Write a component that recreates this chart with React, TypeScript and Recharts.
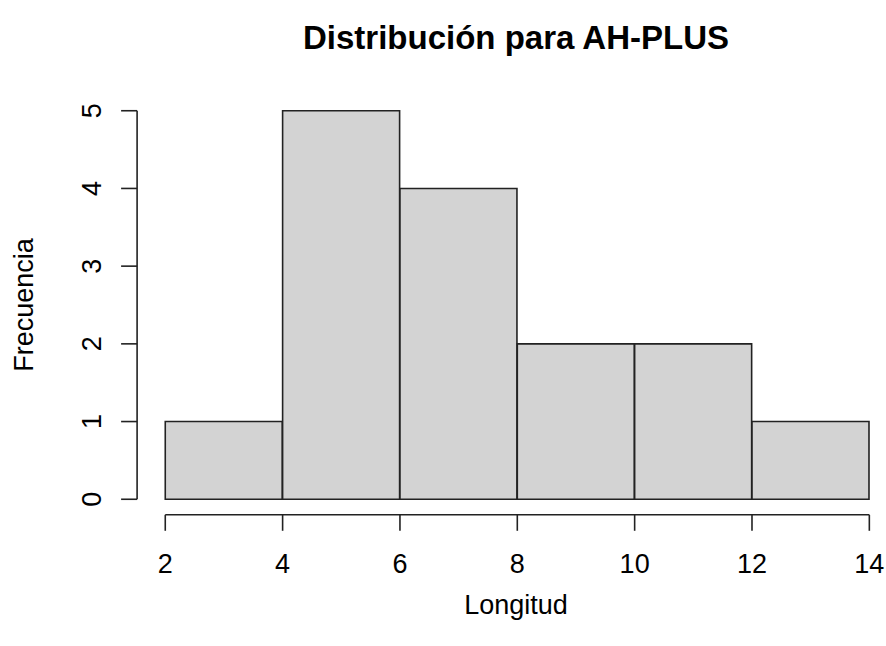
import React from 'react';
import { ComposedChart, Bar, XAxis, YAxis, ReferenceLine } from 'recharts';

// histogram bins (Longitud) and their counts
const binStarts = [2, 4, 6, 8, 10, 12];
const binEnds = [4, 6, 8, 10, 12, 14];
const counts = [1, 5, 4, 2, 2, 1];
const xTicks = [2, 4, 6, 8, 10, 12, 14];
const yTicks = [0, 1, 2, 3, 4, 5];

const title = 'Distribución para AH-PLUS';
const xLabel = 'Longitud';
const yLabel = 'Frecuencia';

const data = binStarts.map((s, i) => ({
  mid: (s + binEnds[i]) / 2,
  count: counts[i],
}));

// R style: axis range extended by 4% on each side
const ext = (lo: number, hi: number): [number, number] => {
  const pad = (hi - lo) * 0.04;
  return [lo - pad, hi + pad];
};
const xDomain = ext(xTicks[0], xTicks[xTicks.length - 1]);
const yDomain = ext(yTicks[0], yTicks[yTicks.length - 1]);

const FONT = '"Liberation Sans", Arial, sans-serif';
const INK = '#222';

const XTick = (props: any) => {
  const { x, y, payload } = props;
  return (
    <text x={x} y={y} dy="0.71em" textAnchor="middle" fontSize={27} fontFamily={FONT} fill="#000">
      {payload.value}
    </text>
  );
};

const YTick = (props: any) => {
  const { x, y, payload } = props;
  return (
    <text
      x={x}
      y={y}
      transform={`rotate(-90, ${x}, ${y})`}
      textAnchor="middle"
      fontSize={27}
      fontFamily={FONT}
      fill="#000"
    >
      {payload.value}
    </text>
  );
};

export default function App() {
  return (
    <div style={{ position: 'absolute', left: 0, top: 0, background: '#fff' }}>
      <ComposedChart
        width={886}
        height={646}
        data={data}
        margin={{ top: 95.2, right: -11.5, bottom: 71.2, left: 37.1 }}
        barCategoryGap={0}
        barGap={0}
      >
        <text x={516} y={49} textAnchor="middle" fontSize={33} fontWeight="bold" fontFamily={FONT} fill="#000">
          {title}
        </text>
        <text x={516} y={614} textAnchor="middle" fontSize={27} fontFamily={FONT} fill="#000">
          {xLabel}
        </text>
        <text
          x={33}
          y={305}
          transform="rotate(-90, 33, 305)"
          textAnchor="middle"
          fontSize={27}
          fontFamily={FONT}
          fill="#000"
        >
          {yLabel}
        </text>
        <XAxis
          dataKey="mid"
          type="number"
          domain={xDomain}
          ticks={xTicks}
          allowDataOverflow
          height={60}
          axisLine={false}
          tickSize={16}
          tickMargin={23}
          tickLine={{ stroke: INK, strokeWidth: 1.6 }}
          tick={<XTick />}
          interval={0}
        />
        <YAxis
          type="number"
          domain={yDomain}
          ticks={yTicks}
          allowDataOverflow
          width={100}
          axisLine={false}
          tickSize={16}
          tickMargin={20}
          tickLine={{ stroke: INK, strokeWidth: 1.6 }}
          tick={<YTick />}
          interval={0}
        />
        <Bar
          dataKey="count"
          fill="#d3d3d3"
          stroke={INK}
          strokeWidth={1.6}
          isAnimationActive={false}
        />
        <ReferenceLine
          segment={[
            { x: xTicks[0], y: yDomain[0] },
            { x: xTicks[xTicks.length - 1], y: yDomain[0] },
          ]}
          stroke={INK}
          strokeWidth={1.6}
          ifOverflow="visible"
        />
        <ReferenceLine
          segment={[
            { x: xDomain[0], y: yTicks[0] },
            { x: xDomain[0], y: yTicks[yTicks.length - 1] },
          ]}
          stroke={INK}
          strokeWidth={1.6}
          ifOverflow="visible"
        />
      </ComposedChart>
    </div>
  );
}
